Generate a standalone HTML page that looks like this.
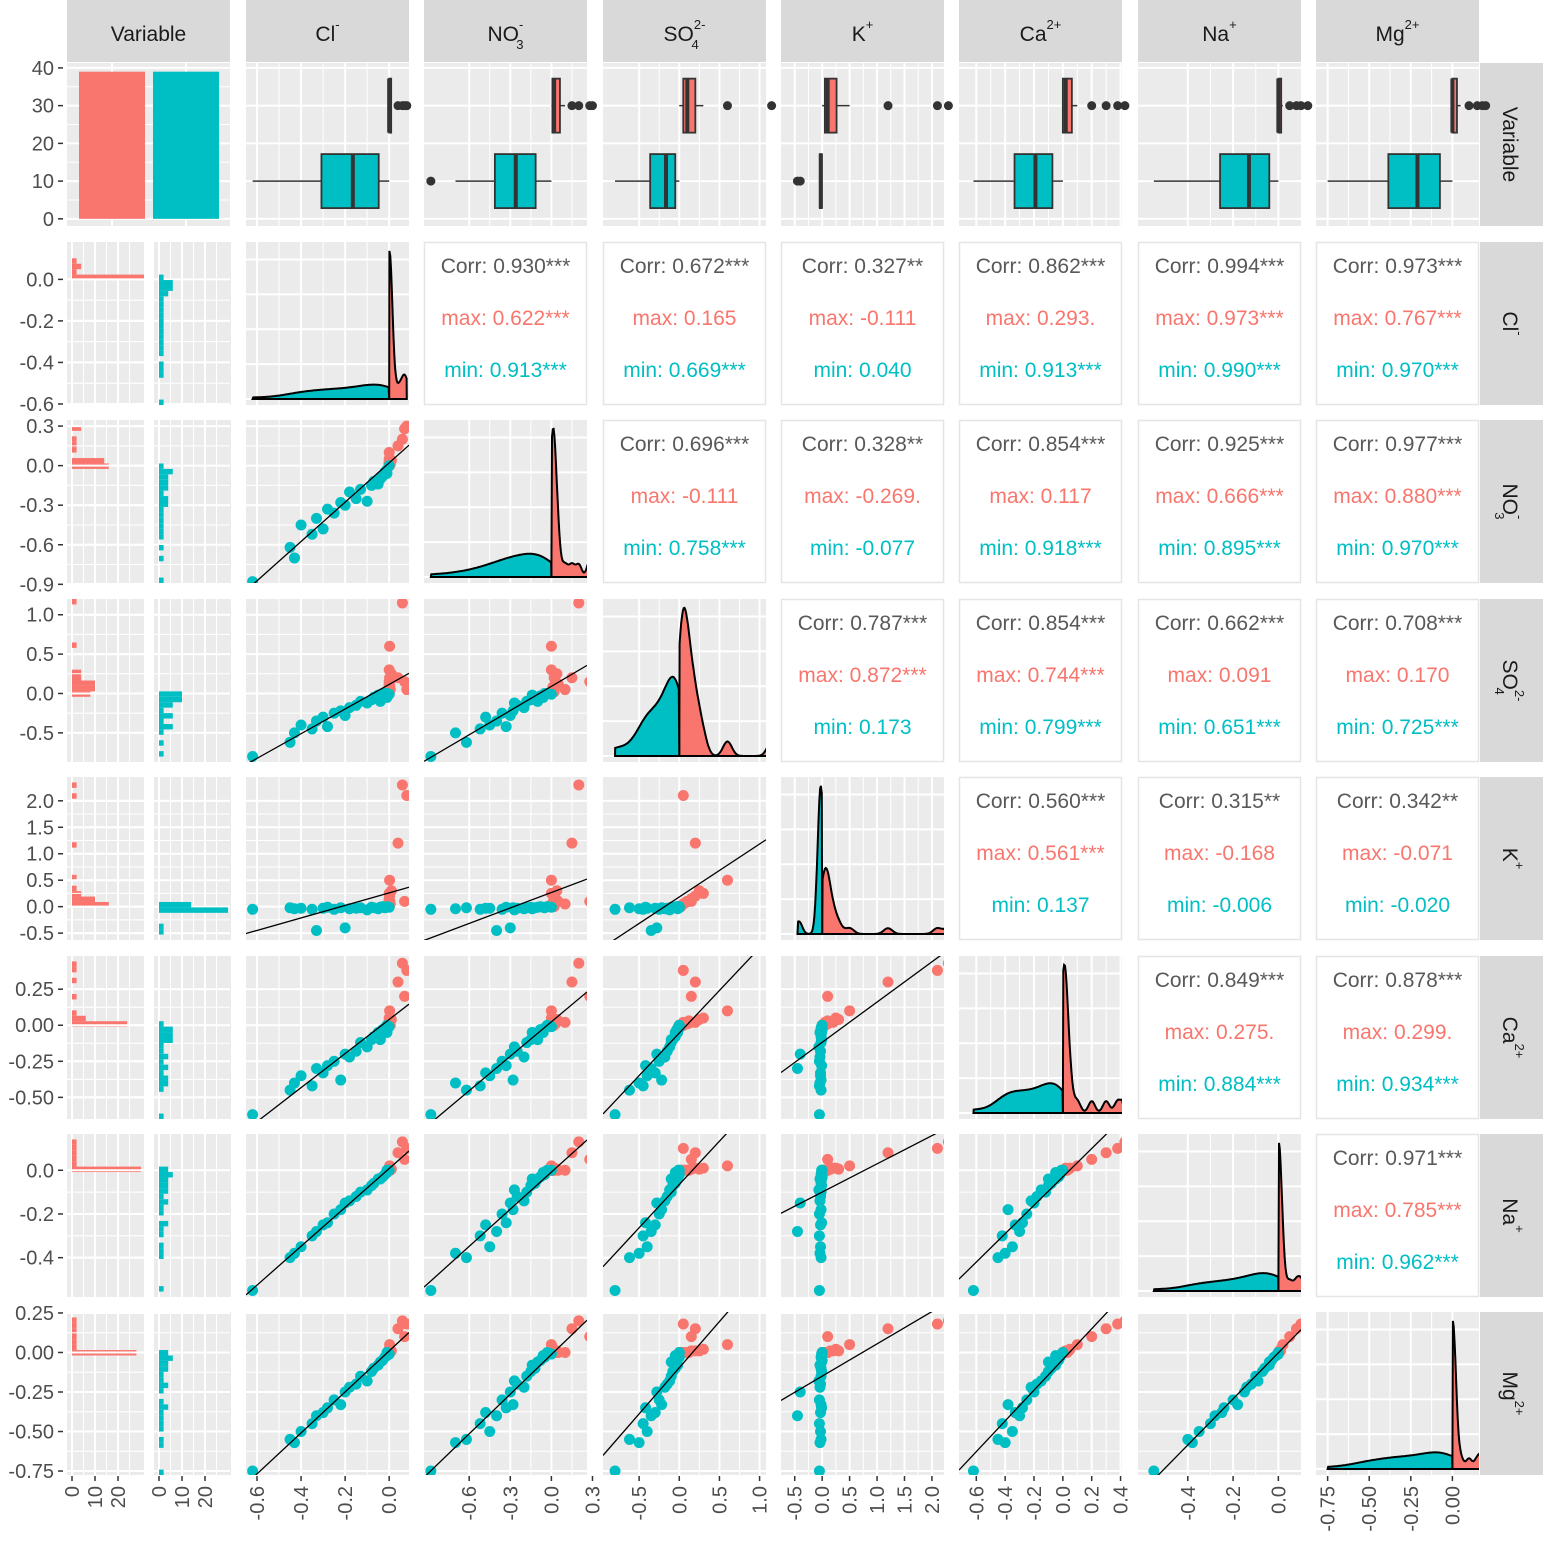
<!DOCTYPE html>
<html><head><meta charset="utf-8"><style>
html,body{margin:0;padding:0;background:#fff;}
svg{display:block;font-family:"Liberation Sans",Arial,sans-serif;}
</style></head><body>
<svg id="chart" width="1543" height="1543" viewBox="0 0 1543 1543" xmlns="http://www.w3.org/2000/svg"></svg>
<script>
// ---------- data ----------
const varNames = ['Cl','NO3','SO4','K','Ca','Na','Mg'];
const groupCounts = [39, 39];
const minCl  = [-0.62,-0.45,-0.43,-0.40,-0.35,-0.33,-0.30,-0.28,-0.25,-0.22,-0.20,-0.18,-0.15,-0.13,-0.10,-0.08,-0.07,-0.05,-0.04,-0.03,-0.02,-0.01,-0.01,0.0];
const minNO3 = [-0.88,-0.62,-0.70,-0.45,-0.52,-0.40,-0.48,-0.33,-0.36,-0.28,-0.30,-0.20,-0.25,-0.18,-0.27,-0.15,-0.12,-0.14,-0.10,-0.08,-0.05,-0.06,-0.03,0.0];
const minSO4 = [-0.80,-0.62,-0.50,-0.40,-0.45,-0.35,-0.30,-0.42,-0.25,-0.22,-0.28,-0.18,-0.15,-0.10,-0.12,-0.08,-0.05,-0.02,-0.10,-0.03,0.0,-0.05,0.0,-0.01];
const minK   = [-0.05,-0.02,-0.04,-0.03,-0.05,-0.45,-0.03,-0.01,-0.05,-0.02,-0.40,-0.04,-0.03,-0.02,-0.06,-0.01,-0.02,-0.04,-0.01,0.0,-0.02,-0.01,0.0,-0.01];
const minCa  = [-0.62,-0.45,-0.40,-0.35,-0.42,-0.30,-0.33,-0.28,-0.25,-0.38,-0.20,-0.22,-0.18,-0.12,-0.15,-0.10,-0.08,-0.05,-0.10,-0.03,-0.02,-0.05,0.0,-0.01];
const minNa  = [-0.55,-0.40,-0.38,-0.35,-0.30,-0.28,-0.25,-0.24,-0.20,-0.18,-0.15,-0.14,-0.12,-0.10,-0.09,-0.07,-0.06,-0.04,-0.04,-0.03,-0.02,-0.01,0.0,0.0];
const minMg  = [-0.75,-0.55,-0.57,-0.50,-0.45,-0.40,-0.38,-0.35,-0.30,-0.33,-0.25,-0.22,-0.20,-0.15,-0.18,-0.12,-0.10,-0.08,-0.06,-0.05,-0.03,-0.02,0.0,-0.01];
const maxCl  = [0,0,0,0,0,0,0,0.002,0,0.005,0,0.003,0,0.01,0,0.002,0.06,0.04,0.07,0.08];
const maxNO3 = [0,0.01,0.02,0,0.03,0.01,0,0.02,0.05,0.01,0.0,0.03,0.02,0.04,0.1,0.0,0.2,0.15,0.28,0.3];
const maxSO4 = [0.0,0.05,0.1,0.02,0.15,0.08,0.0,0.2,0.12,0.05,0.3,0.1,0.02,0.25,0.05,0.6,1.15,0.2,0.15,0.05];
const maxK   = [0.0,0.05,0.1,0.02,0.15,0.08,0.0,0.2,0.1,0.05,0.25,0.1,0.0,0.3,0.05,0.5,2.3,1.2,0.1,2.1];
const maxCa  = [0,0,0.01,0,0.02,0.01,0,0.02,0.03,0,0.05,0.01,0,0.04,0.02,0.1,0.43,0.3,0.2,0.38];
const maxNa  = [0,0,0,0,0.005,0,0,0.01,0,0,0.01,0,0,0.005,0,0.02,0.13,0.08,0.05,0.1];
const maxMg  = [0,0,0,0,0.01,0,0,0.01,0,0,0.02,0,0,0.01,0,0.05,0.2,0.15,0.1,0.18];
const corrAll = ['0.930***','0.672***','0.327**','0.862***','0.994***','0.973***','0.696***','0.328**','0.854***','0.925***','0.977***','0.787***','0.854***','0.662***','0.708***','0.560***','0.315**','0.342**','0.849***','0.878***','0.971***'];
const corrMax = ['0.622***','0.165','-0.111','0.293.','0.973***','0.767***','-0.111','-0.269.','0.117','0.666***','0.880***','0.872***','0.744***','0.091','0.170','0.561***','-0.168','-0.071','0.275.','0.299.','0.785***'];
const corrMin = ['0.913***','0.669***','0.040','0.913***','0.990***','0.970***','0.758***','-0.077','0.918***','0.895***','0.970***','0.173','0.799***','0.651***','0.725***','0.137','-0.006','-0.020','0.884***','0.934***','0.962***'];
const xTicks = [[-0.6,-0.4,-0.2,0],[-0.6,-0.3,0,0.3],[-0.5,0,0.5,1.0],[-0.5,0,0.5,1.0,1.5,2.0],[-0.6,-0.4,-0.2,0,0.2,0.4],[-0.4,-0.2,0],[-0.75,-0.5,-0.25,0]];
const yTicks = [[0,-0.2,-0.4,-0.6],[0.3,0,-0.3,-0.6,-0.9],[1.0,0.5,0,-0.5],[2.0,1.5,1.0,0.5,0,-0.5],[0.25,0,-0.25,-0.5],[0,-0.2,-0.4],[0.25,0,-0.25,-0.5,-0.75]];
const countTicks = [0,10,20,30,40];
const histTicks = [0,10,20];
const xDecimals = [1,1,1,1,1,1,2];
const yDecimals = [1,1,1,1,2,1,2];

const minData = [minCl,minNO3,minSO4,minK,minCa,minNa,minMg];
const maxData = [maxCl,maxNO3,maxSO4,maxK,maxCa,maxNa,maxMg];

// ---------- layout / scales ----------
const RED='#F8766D', CYAN='#00BFC4', BG='#EBEBEB', STRIP='#D9D9D9', TXT='#4D4D4D';
const colX=[67,246,424,603,781,959,1138,1316], rowY=[63,242,420,599,777,956,1134,1312], W=163, H=163;
const xDom=[[-0.65,0.09],[-0.93,0.26],[-0.95,1.08],[-0.75,2.22],[-0.72,0.41],[-0.62,0.10],[-0.82,0.16]];
const yDom=[[-0.605,0.18],[-0.89,0.346],[-0.87,1.2],[-0.63,2.45],[-0.65,0.48],[-0.58,0.166],[-0.775,0.256]];
const cntDom=[-1.9,41.3];
const NS='http://www.w3.org/2000/svg';
const svg=document.getElementById('chart');
function mk(tag,attrs,parent){const e=document.createElementNS(NS,tag);for(const k in attrs)e.setAttribute(k,attrs[k]);(parent||svg).appendChild(e);return e;}
function sx(v,c){const d=xDom[c-1];return colX[c]+(v-d[0])/(d[1]-d[0])*W;}
function sy(v,r){const d=yDom[r-1];return rowY[r]+H-(v-d[0])/(d[1]-d[0])*H;}
function sc(v){return rowY[0]+H-(v-cntDom[0])/(cntDom[1]-cntDom[0])*H;}
const histZero=[72,159], histScale=2.3;

function bg(x,y,w,h,name){const r=mk('rect',{x:x,y:y,width:w,height:h,fill:BG});}
function gl(x1,y1,x2,y2,wd,g){const l=mk('line',{x1:x1,y1:y1,x2:x2,y2:y2,stroke:'#fff','stroke-width':wd},g);}
function vgrid(c,r,g){const t=xTicks[c-1];t.forEach((v,i)=>{gl(sx(v,c),rowY[r],sx(v,c),rowY[r]+H,2,g);if(i>0){const m=(v+t[i-1])/2;gl(sx(m,c),rowY[r],sx(m,c),rowY[r]+H,1,g);}});}
function hgrid(r,c,g){const t=yTicks[r-1];t.forEach((v,i)=>{gl(colX[c],sy(v,r),colX[c]+W,sy(v,r),2,g);if(i>0){const m=(v+t[i-1])/2;gl(colX[c],sy(m,r),colX[c]+W,sy(m,r),1,g);}});}
function clip(id,x,y,w,h){const cp=mk('clipPath',{id:id});mk('rect',{x:x,y:y,width:w,height:h},cp);}

function quant(a,p){const s=[...a].sort((x,y)=>x-y);const h=(s.length-1)*p;const lo=Math.floor(h);return s[lo]+(h-lo)*((s[Math.min(lo+1,s.length-1)])-s[lo]);}
function kde(a,grid,floor){const n=a.length;const m=a.reduce((s,v)=>s+v,0)/n;const sd=Math.sqrt(a.reduce((s,v)=>s+(v-m)*(v-m),0)/(n-1));const iqr=quant(a,0.75)-quant(a,0.25);let bw=0.9*Math.min(sd,iqr/1.34||sd)*Math.pow(n,-0.2);if(!(bw>0))bw=floor;bw=Math.max(bw,floor);return grid.map(x=>a.reduce((s,v)=>s+Math.exp(-0.5*((x-v)/bw)**2),0)/(n*bw*Math.sqrt(2*Math.PI)));}

// ---------- strips ----------
const stripLabels=[['Variable','',''],['Cl','','-'],['NO','3','-'],['SO','4','2-'],['K','','+'],['Ca','','2+'],['Na','','+'],['Mg','','2+']];
stripLabels.forEach((s,c)=>{
  const r=mk('rect',{x:colX[c],y:0,width:W,height:62,fill:STRIP});
  
  
  const t=mk('text',{x:colX[c]+W/2,y:41,'text-anchor':'middle','font-size':21,fill:'#1A1A1A'});
  
  
  t.appendChild(document.createTextNode(s[0]));
  if(s[1]||s[2]){const sp=mk('tspan',{'font-size':13,dy:-12},t);sp.textContent=s[2];
    if(s[1]){const sb=mk('tspan',{'font-size':13,dx:-(s[2].length*7),dy:20},t);sb.textContent=s[1];}}
});
stripLabels.forEach((s,r)=>{
  const ry=rowY[r];
  const rr=mk('rect',{x:1480,y:ry,width:63,height:H,fill:STRIP});
  
  
  const t=mk('text',{x:0,y:0,'text-anchor':'middle','font-size':21,fill:'#1A1A1A',transform:`translate(1503,${ry+H/2}) rotate(90)`});
  
  
  t.appendChild(document.createTextNode(s[0]));
  if(s[1]||s[2]){const sp=mk('tspan',{'font-size':13,dy:-12},t);sp.textContent=s[2];
    if(s[1]){const sb=mk('tspan',{'font-size':13,dx:-(s[2].length*7),dy:20},t);sb.textContent=s[1];}}
});

// ---------- row 0 ----------
bg(colX[0],rowY[0],W,H,'count-bar-panel');
{const g=mk('g',{});countTicks.forEach((v,i)=>{gl(colX[0],sc(v),colX[0]+W,sc(v),2,g);if(i>0)gl(colX[0],sc(v-5),colX[0]+W,sc(v-5),1,g);});
 gl(112,rowY[0],112,rowY[0]+H,2,g);gl(186,rowY[0],186,rowY[0]+H,2,g);
 const bx=[79,153];
 groupCounts.forEach((n,i)=>{const b=mk('rect',{x:bx[i],y:sc(n),width:66,height:sc(0)-sc(n),fill:i?CYAN:RED});});
 countTicks.forEach(v=>{const t=mk('text',{x:54,y:sc(v)+7,'text-anchor':'end','font-size':20,fill:TXT});t.textContent=v;mk('line',{x1:58,x2:63,y1:sc(v),y2:sc(v),stroke:'#333','stroke-width':1.5});});
}
for(let c=1;c<=7;c++){
  bg(colX[c],rowY[0],W,H,'boxplot-panel-'+varNames[c-1]);
  const g=mk('g',{});vgrid(c,0,g);[0,10,20,30,40].forEach(v=>gl(colX[c],sc(v),colX[c]+W,sc(v),2,g));
  [[maxData[c-1],RED,30],[minData[c-1],CYAN,10]].forEach(([a,col,lev])=>{
    const q1=quant(a,0.25),q3=quant(a,0.75),md=quant(a,0.5),iq=q3-q1;
    const lo=Math.min(...a.filter(v=>v>=q1-1.5*iq)),hi=Math.max(...a.filter(v=>v<=q3+1.5*iq));
    const yc=sc(lev),hh=27;
    const w1=mk('line',{x1:sx(lo,c),x2:sx(q1,c),y1:yc,y2:yc,stroke:'#333','stroke-width':1.5});
    const w2=mk('line',{x1:sx(q3,c),x2:sx(hi,c),y1:yc,y2:yc,stroke:'#333','stroke-width':1.5});
    const bxr=mk('rect',{x:sx(q1,c),y:yc-hh,width:Math.max(sx(q3,c)-sx(q1,c),2),height:2*hh,fill:col,stroke:'#333','stroke-width':1.8});
    const ml=mk('line',{x1:sx(md,c),x2:sx(md,c),y1:yc-hh,y2:yc+hh,stroke:'#333','stroke-width':4});
    a.filter(v=>v<lo||v>hi).forEach(v=>{const o=mk('circle',{cx:sx(v,c),cy:yc,r:4.5,fill:'#333'});});
  });
}

// ---------- rows 1..7 ----------
for(let r=1;r<=7;r++){
  [0,1].forEach(k=>{
    const x0=k?154:67;
    bg(x0,rowY[r],77,H,'histogram-panel');
    const g=mk('g',{});hgrid(r,0,g);
    histTicks.forEach(v=>{gl(histZero[k]+v*histScale,rowY[r],histZero[k]+v*histScale,rowY[r]+H,2,g);gl(histZero[k]+(v+5)*histScale,rowY[r],histZero[k]+(v+5)*histScale,rowY[r]+H,1,g);});
    const a=k?minData[r-1]:maxData[r-1],d=yDom[r-1],nb=30,bw=(d[1]-d[0])/nb;
    const cnt=new Array(nb).fill(0);a.forEach(v=>{const b=Math.min(nb-1,Math.max(0,Math.floor((v-d[0])/bw)));cnt[b]++;});
    cnt.forEach((n,b)=>{if(!n)return;const y1=sy(d[0]+(b+1)*bw,r),y2=sy(d[0]+b*bw,r);
      const br=mk('rect',{x:histZero[k],y:y1,width:Math.min(n*histScale*2,72),height:y2-y1,fill:k?CYAN:RED});});
  });
  yTicks[r-1].forEach(v=>{const t=mk('text',{x:54,y:sy(v,r)+7,'text-anchor':'end','font-size':20,fill:TXT});t.textContent=v.toFixed(yDecimals[r-1]);mk('line',{x1:58,x2:63,y1:sy(v,r),y2:sy(v,r),stroke:'#333','stroke-width':1.5});});

  for(let c=1;c<=7;c++){
    const px=colX[c],py=rowY[r];
    if(c>r){
      const idx=(()=>{let n=0;for(let a=1;a<=7;a++)for(let b=a+1;b<=7;b++){if(a===r&&b===c)return n;n++;}})();
      const bx=mk('rect',{x:px+0.5,y:py+0.5,width:W-1,height:H-1,fill:'#fff',stroke:'#E5E5E5','stroke-width':1.5});
      [['Corr: '+corrAll[idx],'#595959',31],['max: '+corrMax[idx],RED,83],['min: '+corrMin[idx],CYAN,135]].forEach(([s,col,dy],j)=>{
        const t=mk('text',{x:px+W/2,y:py+dy,'text-anchor':'middle','font-size':21,fill:col});t.textContent=s;
        });
      continue;
    }
    bg(px,py,W,H,'panel-'+varNames[r-1]+'-'+varNames[c-1]);
    const g=mk('g',{});vgrid(c,r,g);
    const id='cp'+r+'_'+c;clip(id,px,py,W,H);
    if(c===r){
      const d=xDom[c-1],grid=[];for(let i=0;i<=200;i++)grid.push(d[0]+(d[1]-d[0])*i/200);
      const fl=(d[1]-d[0])*0.018;
      const dm=kde(maxData[c-1],grid,fl),dn=kde(minData[c-1],grid,fl);
      const top=Math.max(...dm,...dn)*1.06;
      const yy=v=>py+H-6-v/top*(H-6);
      for(let i=1;i<=4;i++){gl(px,py+H-6-i*(H-6)/4.5,px+W,py+H-6-i*(H-6)/4.5,2,g);}
      gl(px,py+H-6,px+W,py+H-6,2,g);
      const dg=mk('g',{'clip-path':`url(#${id})`});
      [[dm,RED,'density-max'],[dn,CYAN,'density-min']].forEach(([ds,col,nm])=>{
        const a=col===RED?maxData[c-1]:minData[c-1];const lo=Math.min(...a),hi=Math.max(...a);
        let p='';grid.forEach((x,i)=>{if(x<lo||x>hi)return;p+=(p?'L':'M')+sx(x,c).toFixed(1)+','+yy(ds[i]).toFixed(1);});
        p+='L'+sx(hi,c)+','+yy(0)+'L'+sx(lo,c)+','+yy(0)+'Z';
        const pa=mk('path',{d:p,fill:col,stroke:'#000','stroke-width':2},dg);
      });
      continue;
    }
    hgrid(r,c,g);
    const xs=[...maxData[c-1],...minData[c-1]],ys=[...maxData[r-1],...minData[r-1]];
    const n=xs.length,mx=xs.reduce((s,v)=>s+v,0)/n,my=ys.reduce((s,v)=>s+v,0)/n;
    let sxy=0,sxx=0;xs.forEach((x,i)=>{sxy+=(x-mx)*(ys[i]-my);sxx+=(x-mx)**2;});
    const b=sxy/sxx,a0=my-b*mx,d=xDom[c-1];
    const pg=mk('g',{'clip-path':`url(#${id})`});
    [[maxData,RED,'scatter-point-max'],[minData,CYAN,'scatter-point-min']].forEach(([D,col,nm])=>{
      D[c-1].forEach((xv,i)=>{const yv=D[r-1][i];const ci=mk('circle',{cx:sx(xv,c),cy:sy(yv,r),r:5.5,fill:col},pg);});
    });
    const ln=mk('line',{x1:sx(d[0],c),y1:sy(a0+b*d[0],r),x2:sx(d[1],c),y2:sy(a0+b*d[1],r),stroke:'#000','stroke-width':1.3},pg);
    
  }
}

// ---------- bottom axes ----------
[0,1].forEach(k=>histTicks.forEach(v=>{const x=histZero[k]+v*histScale;mk('line',{x1:x,x2:x,y1:1476,y2:1481,stroke:'#333','stroke-width':1.5});
  const t=mk('text',{x:0,y:0,'text-anchor':'end','font-size':20,fill:TXT,transform:`translate(${x+7},1486) rotate(-90)`});t.textContent=v;}));
for(let c=1;c<=7;c++){xTicks[c-1].forEach(v=>{const x=sx(v,c);mk('line',{x1:x,x2:x,y1:1476,y2:1481,stroke:'#333','stroke-width':1.5});
  const t=mk('text',{x:0,y:0,'text-anchor':'end','font-size':20,fill:TXT,transform:`translate(${x+7},1486) rotate(-90)`});t.textContent=v.toFixed(xDecimals[c-1]);});}
</script>
</body></html>
